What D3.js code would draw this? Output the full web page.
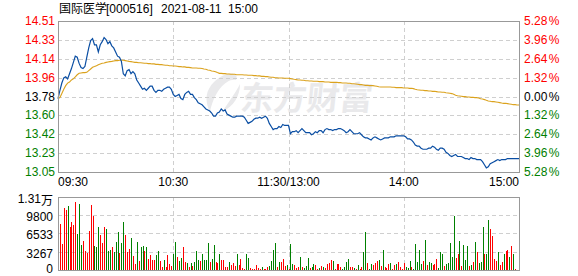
<!DOCTYPE html>
<html><head><meta charset="utf-8">
<script src="https://cdn.jsdelivr.net/npm/d3@7"></script>
<style>
html,body{margin:0;padding:0;background:#fff;}
svg{display:block;}
text{font-family:"Liberation Sans",Arial,sans-serif;font-size:12px;}
</style></head>
<body><svg id="c" width="578" height="276"></svg>
<script>
const title = ["国际医学", "[000516]", "2021-08-11", "15:00"];
const timeTicks = [0, 60, 120, 180, 240];
const timeLabels = ["09:30", "10:30", "11:30/13:00", "14:00", "15:00"];
const priceTicks = [14.51, 14.33, 14.14, 13.96, 13.78, 13.60, 13.42, 13.23, 13.05];
const pctLabels = ["5.28%", "3.96%", "2.64%", "1.32%", "0.00%", "1.32%", "2.64%", "3.96%", "5.28%"];
const prevClose = 13.78;
const volTicks = [13067, 9800, 6533, 3267, 0];
const volLabels = ["1.31万", "9800", "6533", "3267", "0"];

const price = [
13.76,13.84,13.91,13.96,13.97,13.95,14.00,14.05,14.11,14.17,
14.16,14.10,14.06,14.05,14.07,14.16,14.25,14.32,14.34,14.28,
14.28,14.21,14.28,14.31,14.35,14.33,14.29,14.31,14.27,14.25,
14.21,14.17,14.16,14.12,14.00,13.98,14.03,14.04,14.00,14.02,
14.00,13.94,13.91,13.88,13.85,13.86,13.84,13.86,13.88,13.88,
13.84,13.82,13.84,13.84,13.83,13.85,13.86,13.87,13.87,13.85,
13.80,13.78,13.79,13.80,13.76,13.75,13.80,13.82,13.83,13.80,
13.80,13.77,13.75,13.72,13.71,13.70,13.68,13.66,13.65,13.64,
13.62,13.59,13.59,13.62,13.63,13.66,13.64,13.65,13.61,13.60,
13.59,13.58,13.58,13.59,13.59,13.59,13.59,13.58,13.55,13.52,
13.53,13.54,13.56,13.57,13.57,13.58,13.57,13.58,13.59,13.57,
13.52,13.49,13.46,13.47,13.47,13.49,13.48,13.51,13.50,13.50,
13.50,13.42,13.44,13.44,13.45,13.43,13.45,13.47,13.45,13.43,
13.43,13.43,13.41,13.42,13.44,13.43,13.45,13.45,13.43,13.46,
13.47,13.46,13.46,13.45,13.46,13.46,13.47,13.47,13.46,13.45,
13.43,13.44,13.46,13.44,13.42,13.42,13.42,13.43,13.41,13.39,
13.38,13.38,13.37,13.36,13.38,13.39,13.38,13.37,13.36,13.37,
13.38,13.38,13.38,13.39,13.39,13.39,13.40,13.40,13.40,13.40,
13.40,13.39,13.37,13.37,13.36,13.34,13.31,13.30,13.30,13.28,
13.27,13.27,13.27,13.28,13.28,13.30,13.29,13.27,13.26,13.28,
13.28,13.27,13.24,13.23,13.21,13.20,13.21,13.22,13.20,13.20,
13.20,13.19,13.18,13.18,13.17,13.19,13.18,13.18,13.17,13.17,
13.17,13.15,13.12,13.09,13.10,13.13,13.14,13.15,13.16,13.17,
13.16,13.17,13.17,13.17,13.18,13.18,13.18,13.18,13.18,13.18,
13.18];

const avgPrice = [
13.76,13.77,13.81,13.85,13.885,13.91,13.92,13.94,13.95,13.97,
13.99,14.004,14.008,14.011,14.011,14.014,14.03,14.046,14.062,14.069,
14.078,14.088,14.095,14.101,14.104,14.11,14.114,14.117,14.12,14.124,
14.127,14.127,14.13,14.13,14.13,14.127,14.124,14.12,14.117,14.114,
14.11,14.11,14.107,14.107,14.104,14.101,14.101,14.098,14.098,14.095,
14.095,14.091,14.091,14.088,14.088,14.085,14.082,14.082,14.078,14.078,
14.075,14.075,14.072,14.069,14.069,14.066,14.066,14.062,14.062,14.059,
14.056,14.056,14.056,14.053,14.053,14.05,14.046,14.043,14.037,14.033,
14.027,14.024,14.02,14.011,14.004,14.004,14.001,14.001,13.998,13.998,
13.995,13.995,13.995,13.991,13.991,13.991,13.991,13.988,13.988,13.985,
13.985,13.985,13.982,13.982,13.979,13.979,13.975,13.975,13.972,13.972,
13.969,13.966,13.966,13.962,13.962,13.959,13.959,13.959,13.956,13.956,
13.956,13.953,13.95,13.946,13.943,13.94,13.94,13.937,13.937,13.933,
13.933,13.93,13.93,13.927,13.927,13.927,13.924,13.924,13.924,13.92,
13.92,13.92,13.917,13.917,13.917,13.917,13.914,13.914,13.911,13.911,
13.911,13.908,13.908,13.904,13.904,13.901,13.898,13.895,13.895,13.892,
13.888,13.888,13.885,13.885,13.885,13.882,13.879,13.875,13.872,13.872,
13.872,13.872,13.872,13.872,13.869,13.869,13.866,13.866,13.866,13.866,
13.862,13.862,13.862,13.859,13.859,13.856,13.85,13.846,13.843,13.84,
13.84,13.837,13.837,13.833,13.833,13.83,13.83,13.827,13.824,13.824,
13.821,13.821,13.817,13.814,13.811,13.808,13.801,13.792,13.788,13.785,
13.782,13.779,13.779,13.775,13.775,13.772,13.772,13.769,13.769,13.766,
13.759,13.756,13.75,13.743,13.737,13.734,13.73,13.73,13.727,13.724,
13.721,13.717,13.714,13.714,13.711,13.708,13.705,13.701,13.701,13.698,
13.698];

const volume = [
0,8197,4633,11048,10692,11405,7663,8554,8019,12118,
6415,11761,4455,5168,3386,3029,6950,11583,9623,4277,
4099,7663,6237,4811,7663,7306,3386,3564,4099,3208,
4990,6772,3029,4811,8554,6237,3208,3742,5702,2495,
1069,4990,1604,4099,4277,3386,4099,1960,2673,1782,
1782,2673,3386,1604,535,1782,535,2673,1069,713,
2851,4990,2317,1604,2138,4099,1426,1247,535,1247,
713,1426,3386,1782,1604,2851,1782,1782,4811,1426,
1960,4455,1426,1247,2851,1782,1782,535,535,1426,
891,1247,713,2851,891,1960,356,178,2851,2138,
356,178,178,891,356,178,535,178,178,535,
713,1604,3564,4811,535,1426,1426,1960,713,891,
178,4633,1069,891,356,535,2317,535,356,713,
2138,356,535,1069,891,178,356,713,535,356,
1069,1247,1782,1604,178,1069,1069,535,178,535,
1426,1960,535,535,356,178,891,178,535,3208,
6772,1247,178,1069,891,1247,1604,1782,713,3564,
535,356,1069,1247,178,891,1069,1426,535,178,
1247,535,356,1604,535,178,4633,1426,3564,1069,
1604,5346,891,1426,1247,891,1069,1960,356,3208,
2851,713,1069,1247,4811,2317,9623,2138,2851,5168,
713,4455,1782,4277,713,891,1426,4990,3208,1247,
1426,7663,2851,2851,8910,7306,6059,1960,1604,3208,
891,1426,2851,3386,3564,2317,4277,2851,178,0,
4633];

const volDir = [
"u","u","u","u","u","d","u","u","u","u",
"d","d","d","u","u","u","u","u","u","d",
"d","d","u","u","u","d","d","d","u","d",
"d","d","u","d","d","u","u","u","d","u",
"u","d","u","d","d","u","d","u","u","u",
"u","d","d","u","u","d","u","u","u","u",
"d","d","u","d","d","u","u","d","u","d",
"u","d","d","d","u","d","d","d","d","u",
"d","d","u","u","d","u","u","u","u","d",
"u","u","u","d","u","u","u","u","d","d",
"u","u","u","u","u","u","d","u","u","u",
"d","d","d","d","u","d","u","u","u","d",
"u","d","d","u","u","u","d","u","d","d",
"d","u","d","d","u","u","d","u","d","u",
"u","u","u","d","u","u","u","u","d","d",
"d","d","u","u","d","u","d","u","u","d",
"d","u","d","d","u","u","u","d","u","d",
"u","u","u","d","u","u","d","u","u","u",
"u","d","d","d","u","d","d","d","d","d",
"u","d","u","d","d","u","u","u","d","d",
"d","u","d","d","d","d","d","u","u","d",
"u","d","d","d","u","d","u","d","u","d",
"d","d","u","d","d","u","u","u","u","d",
"u","u","d","u","u","d","u","d","u","u",
"u"];

const svg = d3.select("#c");
const L = 58, R = 519, T = 21, B = 172, VT = 196.7, VB = 270;
const RED = "#ff0000", GREEN = "#008000";

const x = d3.scaleLinear().domain([0, 240]).range([L, R]);
const y = d3.scaleLinear().domain([13.05, 14.51]).range([B, T]);
const yv = d3.scaleLinear().domain([0, 13067]).range([VB, VT]);

// watermark
const wm = svg.append("g").attr("fill", "#e9e9eb");
wm.append("path").attr("d", "M214,82 C226,70 240,72 236,80 C226,78 214,92 210,112 C204,100 206,90 214,82 Z");
wm.append("path").attr("d", "M222,112 C230,100 236,92 240,84 C240,96 234,106 222,112 Z");
wm.append("text").attr("x", 240).attr("y", 110)
  .attr("transform", "skewX(-6) translate(11,0)")
  .style("font-family", "'Noto Sans CJK SC'").style("font-size", "33px").style("font-weight", "bold")
  .text("东方财富");

// grid
const grid = svg.append("g").attr("stroke", "#cfcfcf").attr("stroke-dasharray", "4,3")
  .attr("shape-rendering", "crispEdges");
priceTicks.slice(1, -1).forEach(p => {
  grid.append("line").attr("x1", L).attr("x2", R).attr("y1", Math.round(y(p)) + 0.5).attr("y2", Math.round(y(p)) + 0.5);
});
timeTicks.slice(1, -1).forEach(t => {
  const xx = Math.round(x(t)) + 0.5;
  grid.append("line").attr("x1", xx).attr("x2", xx).attr("y1", T).attr("y2", B);
  grid.append("line").attr("x1", xx).attr("x2", xx).attr("y1", VT).attr("y2", VB);
});
volTicks.slice(1, -1).forEach(v => {
  grid.append("line").attr("x1", L).attr("x2", R).attr("y1", Math.round(yv(v)) + 0.5).attr("y2", Math.round(yv(v)) + 0.5);
});

// volume bars
svg.append("g").attr("shape-rendering", "crispEdges").selectAll("rect").data(volume).join("rect")
  .attr("x", (d, i) => Math.round(x(i)))
  .attr("width", 1)
  .attr("y", d => yv(d))
  .attr("height", d => VB - yv(d))
  .attr("fill", (d, i) => volDir[i] === "u" ? RED : GREEN);

// lines
const line = d3.line().x((d, i) => x(i)).y(d => y(d));
svg.append("path").datum(avgPrice).attr("d", line).attr("fill", "none")
  .attr("stroke", "#dba21d").attr("stroke-width", 1.1);
svg.append("path").datum(price).attr("d", line).attr("fill", "none")
  .attr("stroke", "#0a4ea3").attr("stroke-width", 1.2);

// borders
const border = svg.append("g").attr("fill", "none").attr("stroke", "#999").attr("shape-rendering", "crispEdges");
border.append("rect").attr("x", L + 0.5).attr("y", T + 0.5).attr("width", R - L).attr("height", B - T);
border.append("rect").attr("x", L + 0.5).attr("y", Math.round(VT) + 0.5).attr("width", R - L).attr("height", VB - Math.round(VT));

// title
const tt = svg.append("text").attr("y", 13).attr("fill", "#000");
tt.append("tspan").attr("x", 59).style("font-family", "'Noto Sans CJK SC'").text(title[0]);
tt.append("tspan").attr("x", 106).text(title[1]);
tt.append("tspan").attr("x", 161).text(title[2]);
tt.append("tspan").attr("x", 228).text(title[3]);

// left price axis
svg.append("g").selectAll("text").data(priceTicks).join("text")
  .attr("x", 55).attr("y", d => y(d)).attr("text-anchor", "end").attr("dominant-baseline", "central")
  .attr("fill", d => d > prevClose + 1e-9 ? RED : (d < prevClose - 1e-9 ? GREEN : "#000"))
  .text(d => d.toFixed(2));

// right percent axis
svg.append("g").selectAll("text").data(pctLabels).join("text")
  .attr("x", 524).attr("y", (d, i) => y(priceTicks[i])).attr("dominant-baseline", "central")
  .attr("fill", (d, i) => priceTicks[i] > prevClose + 1e-9 ? RED : (priceTicks[i] < prevClose - 1e-9 ? GREEN : "#000"))
  .each(function(d) {
    const s = d3.select(this);
    s.append("tspan").text(d.slice(0, -1));
    s.append("tspan").attr("dx", 1.5).text("%");
  });

// time axis
svg.append("g").selectAll("text").data(timeTicks).join("text")
  .attr("x", d => x(d)).attr("y", 182).attr("dominant-baseline", "central")
  .attr("text-anchor", (d, i) => i === 0 ? "start" : (i === timeTicks.length - 1 ? "end" : "middle"))
  .attr("fill", "#000")
  .text((d, i) => timeLabels[i]);

// volume axis
svg.append("g").selectAll("text").data(volTicks).join("text")
  .attr("x", 53).attr("y", d => Math.min(yv(d) + 2, 269)).attr("text-anchor", "end").attr("dominant-baseline", "central")
  .attr("fill", "#000")
  .each(function(d, i) {
    const s = d3.select(this);
    const lab = volLabels[i];
    if (lab.endsWith("万")) {
      s.append("tspan").text(lab.slice(0, -1));
      s.append("tspan").style("font-family", "'Noto Sans CJK SC'").text("万");
    } else s.text(lab);
  });
</script></body></html>
